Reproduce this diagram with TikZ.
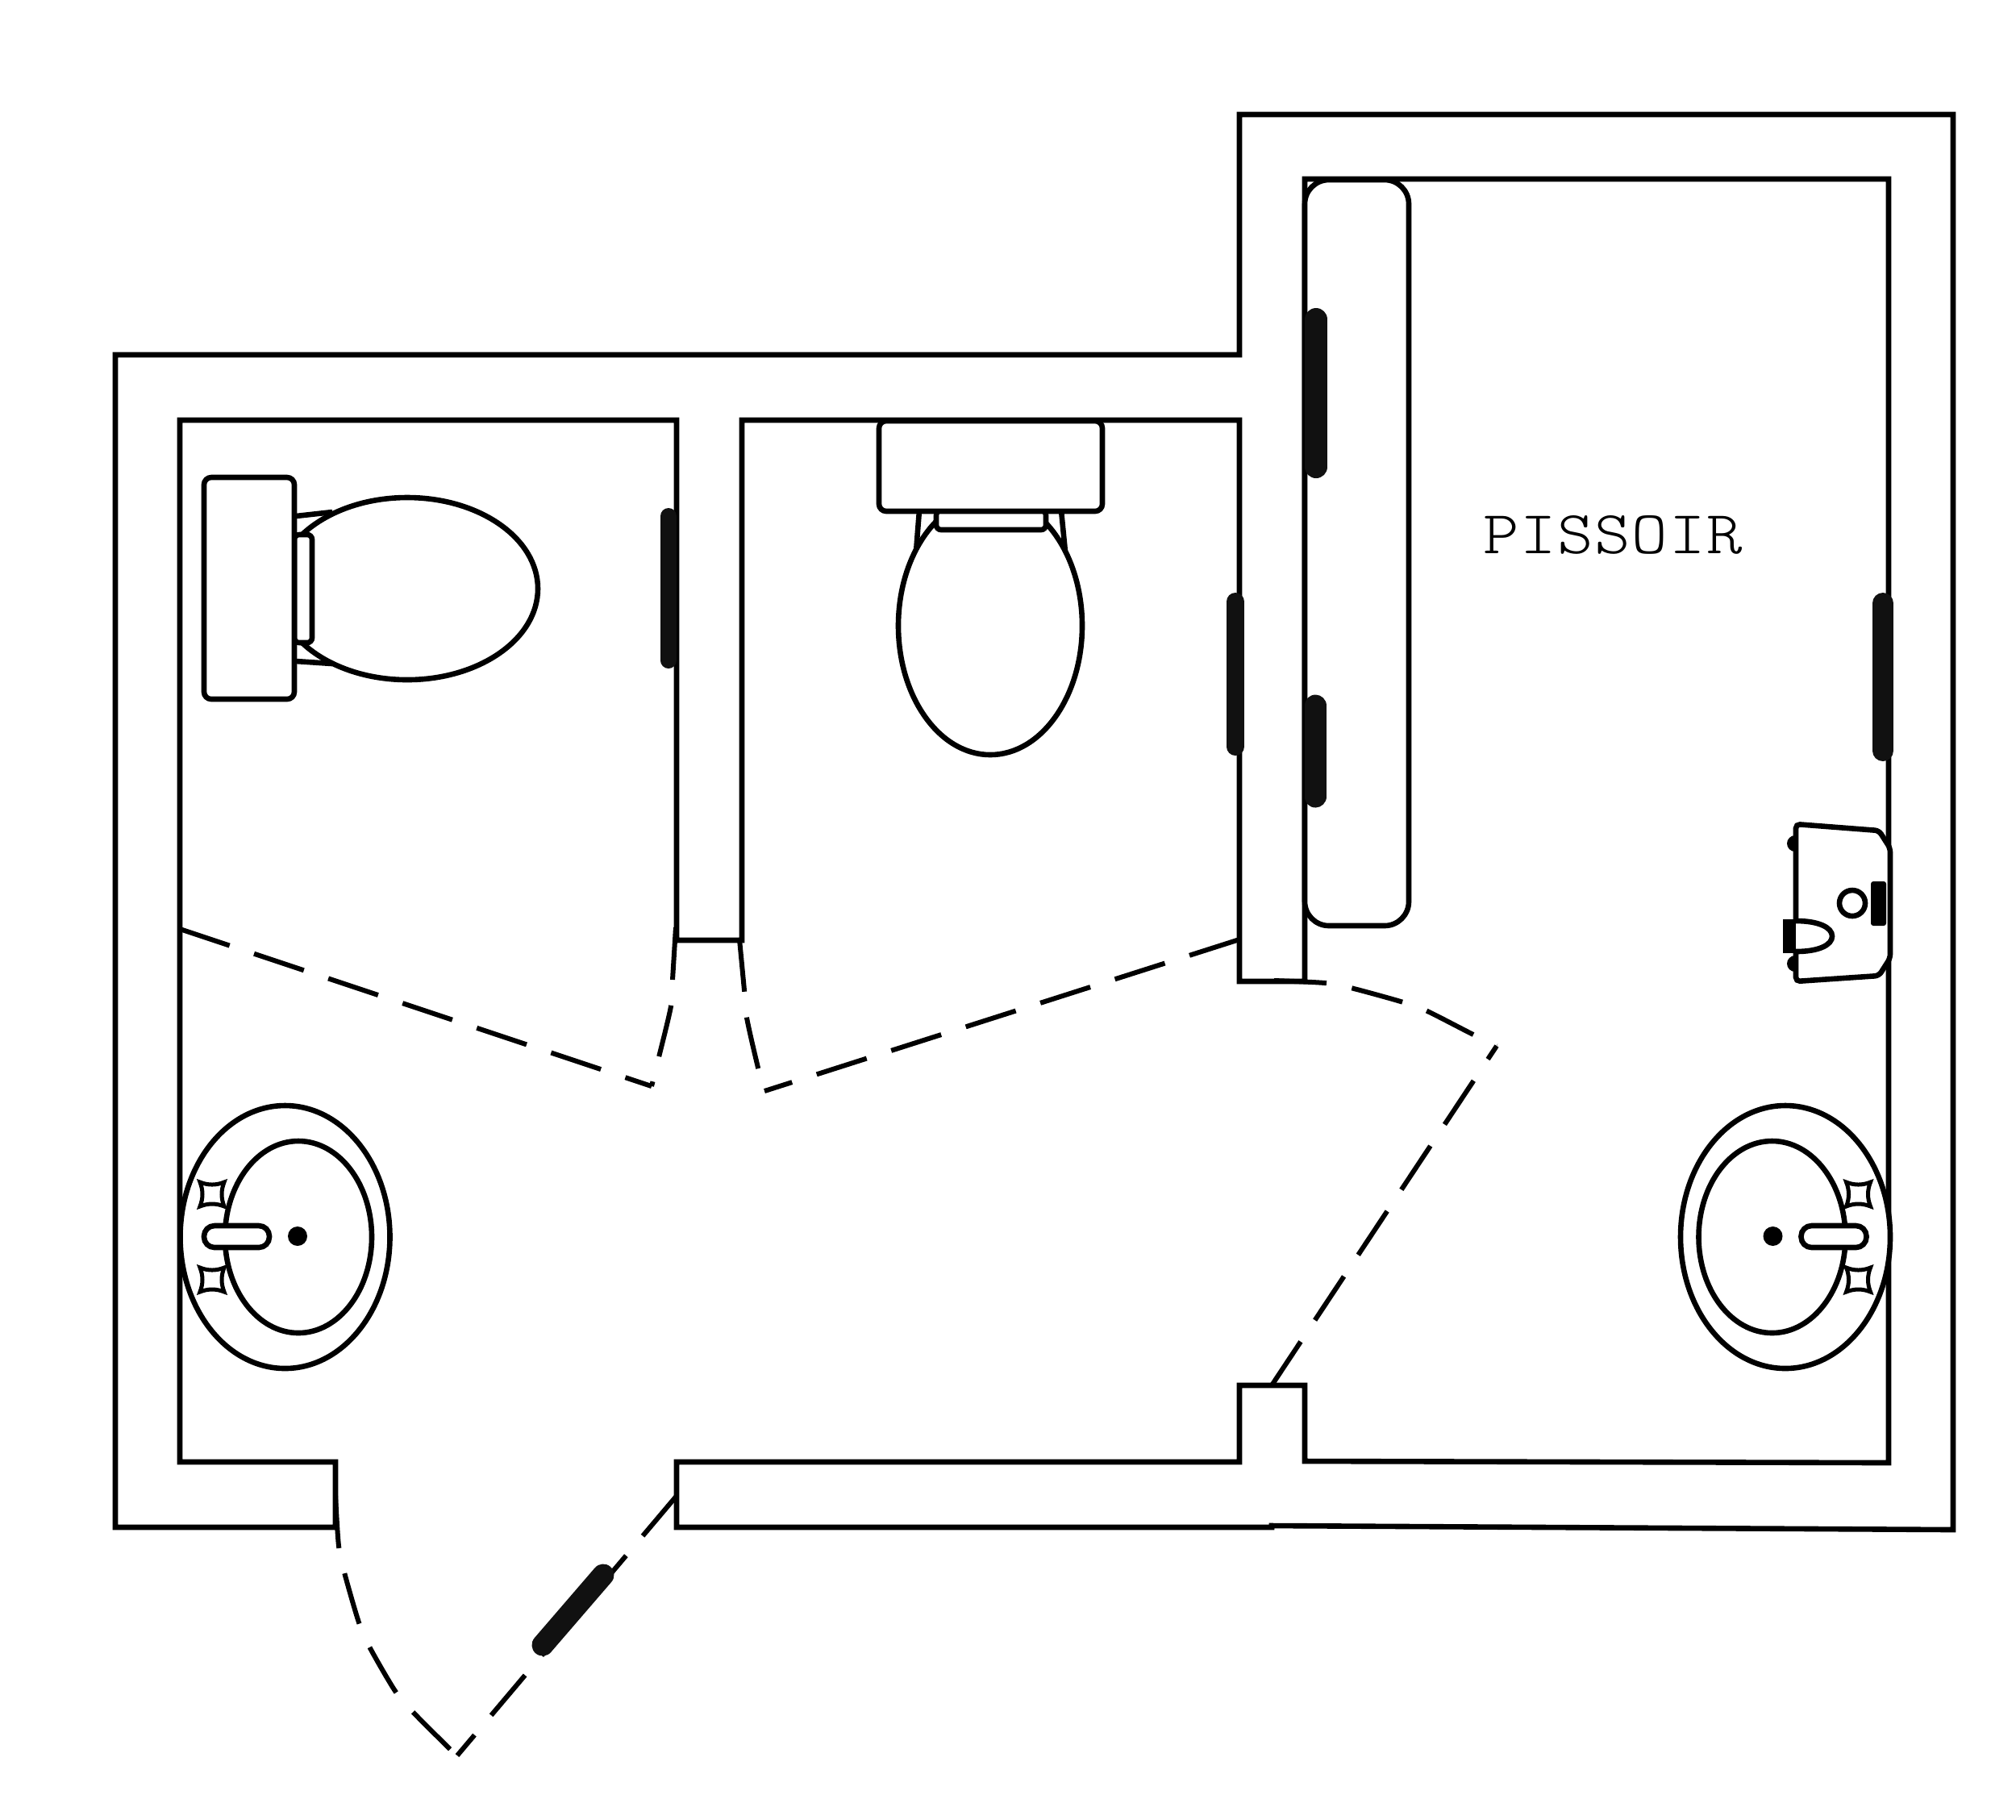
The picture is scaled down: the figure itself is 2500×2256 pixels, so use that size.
\documentclass[tikz,border=0pt]{standalone}
\usepackage{fontspec}
\usepackage{xcolor}
\usepackage{tikz}
\newfontfamily\pissoirfont[LetterSpace=2]{Latin Modern Mono Light}
\definecolor{barblack}{HTML}{111111}
\tikzset{
  wall/.style={line width=0.066cm,miter limit=10},
  fixture/.style={draw,fill=white,line width=0.066cm},
  doorline/.style={line width=0.06cm,dash pattern=on 0.65cm off 0.32cm},
  grabbar/.style={color=barblack,line cap=round}
}

\begin{document}
\begin{tikzpicture}[x=0.01cm,y=-0.01cm,line width=0.066cm]
\useasboundingbox (0,0) rectangle (2500,2256);
\draw [wall] (416,1813) -- (416,1894) -- (143,1894) -- (143,440) -- (1537,440) -- (1537,142) -- (2422,142) -- (2422,1897) -- (1577,1892) -- (1577,1894) -- (839,1894) -- (839,1813) -- (1537,1813) -- (1537,1718) -- (1618,1718) -- (1618,1812) -- (2342,1814) -- (2342,222) -- (1618,222) -- (1618,1217) -- (1537,1217) -- (1537,521) -- (920,521) -- (920,1166) -- (839,1166) -- (839,521) -- (223,521) -- (223,1813) -- cycle;
\draw [fixture,rounded corners=0.3cm] (1618,223) rectangle (1747,1148);
\draw (367,640) -- (412,635);
\draw (367,820) -- (412,823);
\draw [fixture] (505,730) ellipse [x radius=162,y radius=113];
\draw [fixture,rounded corners=0.06cm] (365,663) rectangle (387,797);
\draw [fixture,rounded corners=0.09cm] (253,592) rectangle (365,867);
\draw (1140,633) -- (1136,684);
\draw (1316,633) -- (1321,684);
\draw [fixture] (1228,776) ellipse [x radius=114,y radius=160];
\draw [fixture,rounded corners=0.06cm] (1161,633) rectangle (1297,657);
\draw [fixture,rounded corners=0.09cm] (1090,522) rectangle (1367,634);
\foreach \sinkx/\sinks in {0/1,2567.5/-1} {
  \begin{scope}[shift={(\sinkx,0)},xscale=\sinks]
    \draw [fixture] (353.5,1534) ellipse [x radius=130,y radius=163];
    \draw [fixture] (370,1534) ellipse [x radius=91,y radius=119];
    \foreach \stary in {1481,1587} {
      \begin{scope}[shift={(263,\stary)}]
        \draw [fixture,line width=0.05cm,miter limit=4] (-15,-15) .. controls (-5,-11) and (5,-11) .. (15,-15) .. controls (11,-5) and (11,5) .. (15,15) .. controls (5,11) and (-5,11) .. (-15,15) .. controls (-11,5) and (-11,-5) .. (-15,-15) -- cycle;
      \end{scope}
    }
    \draw [fixture,rounded corners=0.13cm] (253,1520) rectangle (334,1547);
    \fill (369,1533) circle [radius=12];
  \end{scope}
}
\fill (2226,1046) circle [radius=10];
\fill (2226,1195) circle [radius=10];
\draw [fixture,rounded corners=0.05cm] (2227,1022) -- (2330,1030) -- (2344,1052) -- (2344,1188) -- (2330,1210) -- (2227,1217) -- cycle;
\draw [fixture] (2297,1120) circle [radius=16];
\fill [rounded corners=0.03cm] (2320,1093) rectangle (2339,1148);
\draw [fixture] (2227,1142) .. controls (2255,1142) and (2272,1150) .. (2272,1161) .. controls (2272,1172) and (2255,1180) .. (2227,1180);
\fill (2211,1140) rectangle (2227,1182);
\draw [doorline] (223,1152) -- (808,1347);
\draw [doorline] (1537,1165) -- (948,1353);
\draw [doorline] (1577,1718) -- (1856,1297);
\draw [doorline] (839,1855) -- (567,2177);
\draw [doorline] plot [smooth] coordinates {(838,1150) (834,1215) (832,1248) (817,1311) (808,1347)};
\draw [doorline] plot [smooth] coordinates {(917,1165) (923,1228) (926,1262) (940,1324) (948,1353)};
\draw [doorline] plot [smooth] coordinates {(1580,1216) (1643,1219) (1675,1225) (1737,1242) (1768,1253) (1825,1282) (1856,1297)};
\draw [doorline] plot [smooth] coordinates {(416,1855) (420,1917) (427,1950) (445,2012) (458,2042) (490,2097) (512,2123) (557,2168) (567,2177)};
\draw [grabbar,line width=0.2cm] (829,640) -- (829,819);
\draw [grabbar,line width=0.28cm] (1632,396) -- (1632,579);
\draw [grabbar,line width=0.22cm] (1532,746) -- (1532,926);
\draw [grabbar,line width=0.27cm] (1631,875) -- (1631,988);
\draw [grabbar,line width=0.26cm] (2335,748) -- (2335,931);
\draw [grabbar,line width=0.27cm] (673,2040) -- (748,1953);
\node [transform shape,xscale=1.12] (pissoirlabel) at (2000,663) {\fontsize{21.5}{21.5}\selectfont\pissoirfont PISSOIR};
\end{tikzpicture}
\end{document}
